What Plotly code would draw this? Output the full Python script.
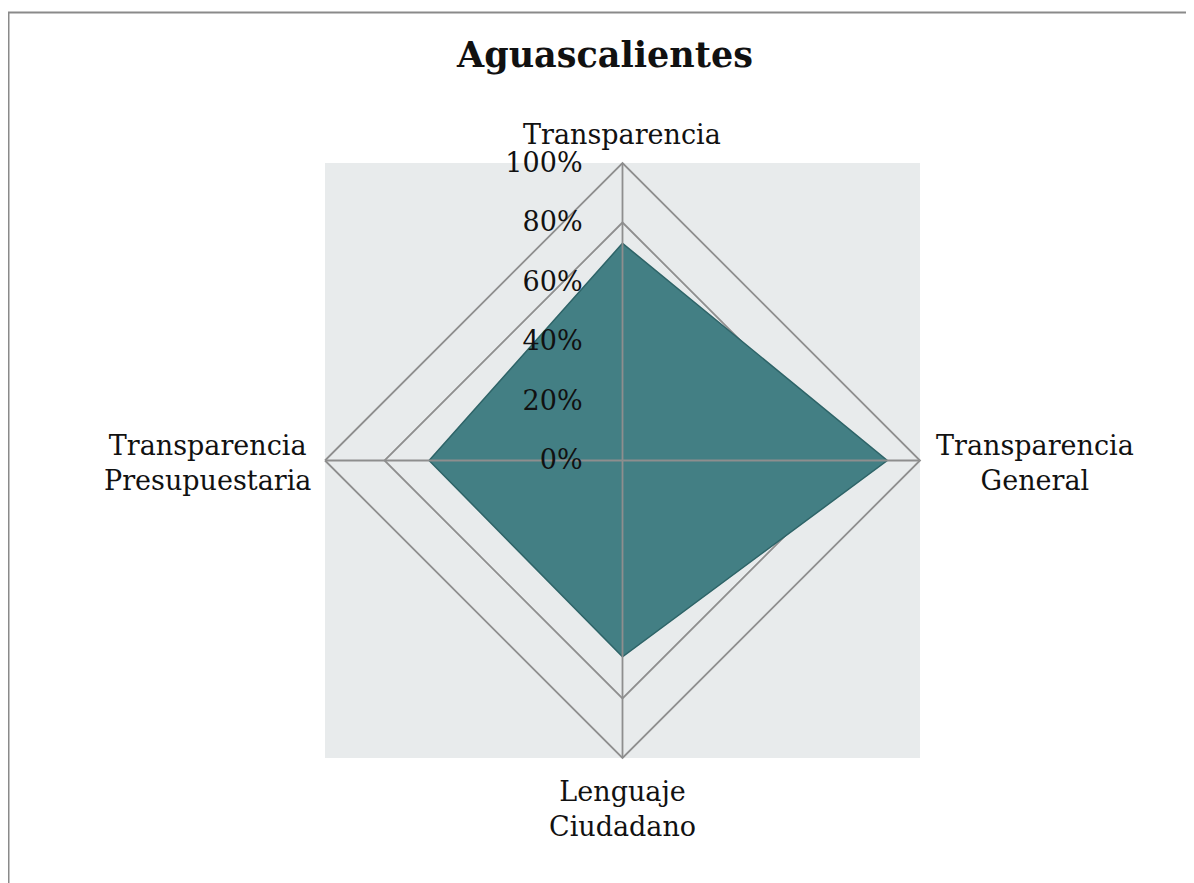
import plotly.graph_objects as go

categories = ['Transparencia', 'Transparencia General', 'Lenguaje Ciudadano',
              'Transparencia Presupuestaria']
labels = ['Transparencia', 'Transparencia<br>General', 'Lenguaje<br>Ciudadano',
          'Transparencia<br>Presupuestaria']
values = [73, 89, 66, 65]
ring_levels = [80]  # inner ring; the outer 100% ring is the angular axis line
tick_vals = [0, 20, 40, 60, 80, 100]
tick_text = ['0%', '20%', '40%', '60%', '80%', '100%']

W, H = 1194, 883
off = 8  # page body margin
font_name = 'DejaVu Serif'
grid_col = '#8e8e8e'

# where the category labels sit (pixel centres on the page)
label_pos = [(613.5, 126), (1026.5, 455), (614.5, 801), (199, 455)]

fig = go.Figure()

# rings sit under the filled area
for lvl in ring_levels:
    fig.add_trace(go.Scatterpolar(
        r=[lvl] * (len(categories) + 1),
        theta=categories + categories[:1],
        mode='lines',
        line=dict(color=grid_col, width=1.8),
        hoverinfo='skip',
        showlegend=False
    ))

fig.add_trace(go.Scatterpolar(
    r=values + values[:1],
    theta=categories + categories[:1],
    mode='lines',
    fill='toself',
    fillcolor='#437f84',
    line=dict(color='#2e6468', width=1.5),
    showlegend=False
))

# spokes drawn above the fill
for c in categories:
    fig.add_trace(go.Scatterpolar(
        r=[0, 100],
        theta=[c, c],
        mode='lines',
        line=dict(color=grid_col, width=1.8),
        hoverinfo='skip',
        showlegend=False
    ))

dom_x = [(325 - off) / W, (920 - off) / W]
dom_y = [1 - (758 - off) / H, 1 - (163 - off) / H]

annotations = []
for txt, (px, py) in zip(labels, label_pos):
    annotations.append(dict(
        text=txt, xref='paper', yref='paper', x=px / W, y=1 - py / H,
        xanchor='center', yanchor='middle', align='center', showarrow=False,
        font=dict(family=font_name, size=27, color='#111111')
    ))

fig.update_layout(
    width=W, height=H,
    margin=dict(l=0, r=0, t=0, b=0),
    paper_bgcolor='white',
    font=dict(family=font_name, size=26, color='#111111'),
    title=dict(text='<b>Aguascalientes</b>', x=597 / W, xanchor='center',
               y=1 - 47 / H, yanchor='middle',
               font=dict(family=font_name, size=35, color='#111111')),
    polar=dict(
        domain=dict(x=dom_x, y=dom_y),
        bgcolor='rgba(0,0,0,0)',
        gridshape='linear',
        angularaxis=dict(
            direction='clockwise', rotation=90,
            showgrid=False, showline=True, linecolor=grid_col, linewidth=1.8,
            ticks='', showticklabels=False
        ),
        radialaxis=dict(
            range=[0, 100], angle=90, tickangle=90,
            tickvals=tick_vals, ticktext=tick_text,
            showgrid=False, showline=False,
            ticks='outside', ticklen=30, tickcolor='rgba(0,0,0,0)',
            side='counterclockwise',
            tickfont=dict(size=27)
        )
    ),
    annotations=annotations,
    shapes=[
        dict(type='rect', xref='paper', yref='paper', layer='below',
             x0=dom_x[0], x1=dom_x[1], y0=dom_y[0], y1=dom_y[1],
             fillcolor='#e8ebec', line=dict(width=0)),
        dict(type='rect', xref='paper', yref='paper', layer='below',
             x0=0.5 / W, x1=1.05, y0=1 - 4.5 / H, y1=-0.05,
             fillcolor='rgba(0,0,0,0)', line=dict(color='#8a8a8a', width=2)),
    ]
)

fig.write_html('out.html')
